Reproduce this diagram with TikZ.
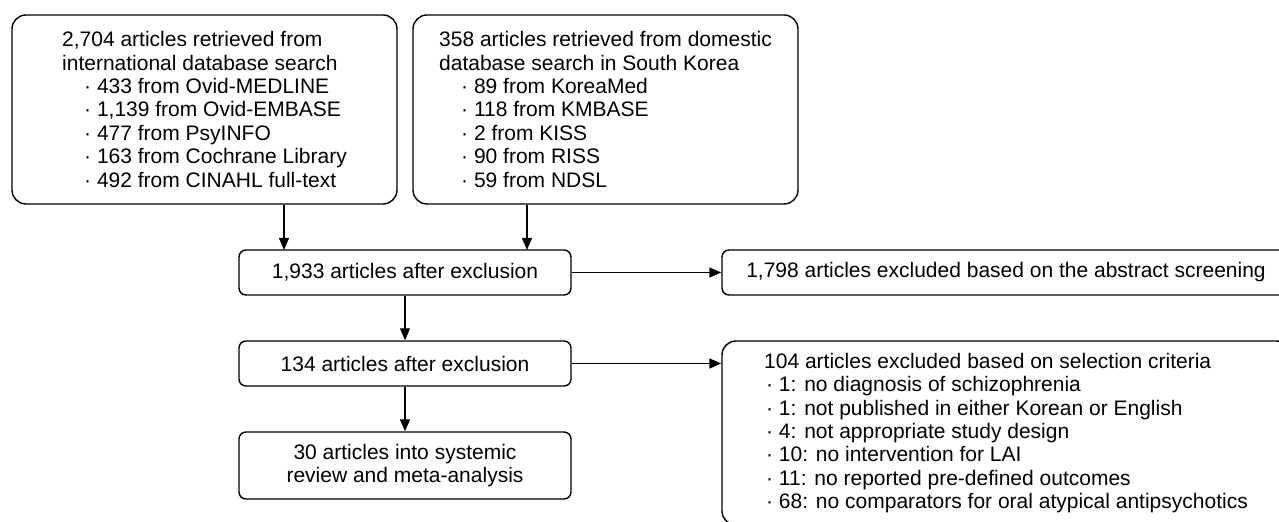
\documentclass[tikz,border=0pt]{standalone}
\usepackage{fontspec}
\setmainfont{Liberation Sans}
\usetikzlibrary{arrows.meta}

\tikzset{
  box/.style={draw, line width=0.7pt, inner sep=0pt, rounded corners=3.5pt,
    font=\fontsize{10.5}{11.7}\selectfont},
  tall/.style={rounded corners=7pt},
  arr/.style={line width=0.7pt, -{Triangle[length=6pt,width=5pt]}},
}

\begin{document}
\begin{tikzpicture}[x=0.5pt, y=-0.5pt]
\def\colx{405};
\def\outx{1006};
\def\bul{\hspace*{11pt}· };

\useasboundingbox (0,0) rectangle (1279,522);

% sources
\node[box, tall, minimum width=192.5pt, minimum height=94.5pt, align=left] (intl) at (204.5,109.5)
  {2,704 articles retrieved from\\
   international database search\\
   \bul 433 from Ovid-MEDLINE\\
   \bul 1,139 from Ovid-EMBASE\\
   \bul 477 from PsyINFO\\
   \bul 163 from Cochrane Library\\
   \bul 492 from CINAHL full-text};

\node[box, tall, minimum width=192.5pt, minimum height=94.5pt, align=left] (dom) at (605.5,109.5)
  {358 articles retrieved from domestic\\
   database search in South Korea\\
   \bul 89 from KoreaMed\\
   \bul 118 from KMBASE\\
   \bul 2 from KISS\\
   \bul 90 from RISS\\
   \bul 59 from NDSL};

% main column
\node[box, minimum width=166pt, minimum height=22.5pt] (first) at (\colx,272.5)
  {1,933 articles after exclusion};
\node[box, minimum width=166pt, minimum height=22.5pt] (second) at (\colx,363.5)
  {134 articles after exclusion};
\node[box, minimum width=166pt, minimum height=33.5pt, align=center] (final) at (\colx,465.5)
  {30 articles into systemic\\review and meta-analysis};

% exclusions
\node[box, minimum width=284pt, minimum height=22.5pt] (abs) at (\outx,272.5)
  {1,798 articles excluded based on the abstract screening};
\node[box, tall, minimum width=284pt, minimum height=92pt, align=left] (crit) at (\outx,433)
  {104 articles excluded based on selection criteria\\
   \hspace*{1pt}· 1: no diagnosis of schizophrenia\\
   \hspace*{1pt}· 1: not published in either Korean or English\\
   \hspace*{1pt}· 4: not appropriate study design\\
   \hspace*{1pt}· 10: no intervention for LAI\\
   \hspace*{1pt}· 11: no reported pre-defined outcomes\\
   \hspace*{1pt}· 68: no comparators for oral atypical antipsychotics};

% arrows
\coordinate (inA) at (284,250);
\coordinate (inB) at (527,250);
\draw[arr] (intl.south -| inA) -- (inA);
\draw[arr] (dom.south -| inB) -- (inB);

\draw[arr] (first) -- (abs);
\draw[arr] (first) -- (second);
\draw[arr] (second) -- (final);
\draw[arr] (second.east) -- (crit.west |- second.east);

\end{tikzpicture}
\end{document}
